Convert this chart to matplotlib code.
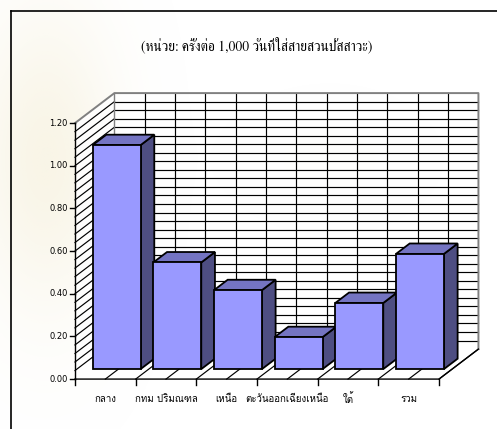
import matplotlib
matplotlib.use("Agg")
import matplotlib.pyplot as plt
from matplotlib.patches import Polygon
import numpy as np

# Infection rate per 1,000 catheter-days by region
categories = ["กลาง", "กทม ปริมณฑล", "เหนือ", "ตะวันออกเฉียงเหนือ", "ใต้", "รวม"]
values = [1.05, 0.50, 0.37, 0.15, 0.31, 0.54]
y_ticks = [0.00, 0.20, 0.40, 0.60, 0.80, 1.00, 1.20]
title = "(หน่วย: ครั้งต่อ 1,000 วันที่ใส่สายสวนปัสสาวะ)"

Y_MAX = 1.20
MINOR = 0.04
N = len(categories)

# Oblique projection: full depth shifts right (in category units) and up (in value units)
DX, DY = 0.65, 0.1406
Z_FRONT, Z_BACK = 0.333, 0.68
HALF_W = 0.395
SHIFT = -0.03

FRONT = "#9999ff"
TOP = "#7474c2"
SIDE = "#4e4e82"
WALL_EDGE = "#808080"

fig = plt.figure(figsize=(4.97, 4.29), dpi=100)

# faint paper watermark on the left side of the page
bg = fig.add_axes([0, 0, 1, 1], zorder=-1)
bg.axis("off")
gx, gy = np.meshgrid(np.linspace(0, 497, 250), np.linspace(429, 0, 216))
blob = (np.exp(-(((gx - 45) / 70) ** 2) - (((gy - 270) / 150) ** 2)) * 0.32
        + np.exp(-(((gx - 330) / 60) ** 2) - (((gy - 270) / 40) ** 2)) * 0.15)
rgba = np.zeros(gx.shape + (4,))
rgba[..., :3] = np.array([236, 224, 180]) / 255
rgba[..., 3] = np.clip(blob, 0, 1)
bg.imshow(rgba, extent=[0, 497, 0, 429], aspect="auto", interpolation="bilinear")
bg.set_xlim(0, 497)
bg.set_ylim(0, 429)

ax = fig.add_axes([0, 0, 1, 1])
ax.patch.set_alpha(0)
ax.set_xlim(-1.236, 6.956)
ax.set_ylim(-0.234, 1.777)
ax.axis("off")

def poly(pts, fc, ec="black", lw=1.0, z=1, alpha=1.0):
    ax.add_patch(Polygon(pts, closed=True, facecolor=fc, edgecolor=ec,
                         linewidth=lw, zorder=z, joinstyle="miter", alpha=alpha))

# chart frame (extends past the right and bottom edges)
ax.plot([-1.055, 6.956], [1.727, 1.727], color="black", lw=1.2, zorder=0.5)
ax.plot([-1.055, -1.055], [1.727, -0.234], color="black", lw=1.2, zorder=0.5)

# back wall, side wall and floor
poly([(DX, DY), (N + DX, DY), (N + DX, Y_MAX + DY), (DX, Y_MAX + DY)], "white", "none", 0, 1, 0.85)
poly([(0, 0), (DX, DY), (DX, Y_MAX + DY), (0, Y_MAX)], "white", "none", 0, 1, 0.85)
poly([(0, 0), (N, 0), (N + DX, DY), (DX, DY)], "white", "none", 0, 1, 0.85)

levels = np.arange(0, Y_MAX + 1e-9, MINOR)
for v in levels[1:-1]:
    ax.plot([DX, N + DX], [v + DY, v + DY], color="black", lw=0.85, zorder=2)
    ax.plot([0, DX], [v, v + DY], color="black", lw=0.85, zorder=2)
halves = np.arange(0, N + 1e-9, 0.5)
for x in halves[1:-1]:
    ax.plot([x + DX, x + DX], [DY, Y_MAX + DY], color="black", lw=0.85, zorder=2)
for x in halves[1:]:
    ax.plot([x, x + DX], [0, DY], color="black", lw=0.85, zorder=2)

# wall outlines
ax.plot([0, DX, N + DX, N + DX], [Y_MAX, Y_MAX + DY, Y_MAX + DY, DY],
        color=WALL_EDGE, lw=1.4, zorder=2.5)
ax.plot([DX, DX], [DY, Y_MAX + DY], color=WALL_EDGE, lw=1.0, zorder=2.5)
ax.plot([0, N, N + DX], [0, 0, DY], color="black", lw=1.0, zorder=2.5)
ax.plot([0, 0], [0, Y_MAX], color="black", lw=1.0, zorder=2.5)

# value axis ticks and labels
for t in y_ticks:
    ax.plot([-0.085, 0], [t, t], color="black", lw=1.0, zorder=2.5)
    ax.text(-0.12, t, f"{t:.2f}", ha="right", va="center", fontsize=6,
            family=["DejaVu Sans"], zorder=3)

# category ticks and labels
for i in range(N + 1):
    ax.plot([i, i], [0, -0.03], color="black", lw=1.0, zorder=2.5)
for i, lab in enumerate(categories):
    ax.text(i + 0.5, -0.094, lab, ha="center", va="center", fontsize=7,
            family=["Loma", "DejaVu Sans"], zorder=3)

# 3D bars, drawn left to right so each one covers its neighbour's side face
for i, v in enumerate(values):
    c = i + 0.5 + SHIFT
    x0f = c - HALF_W + Z_FRONT * DX
    x1f = c + HALF_W + Z_FRONT * DX
    y0f = Z_FRONT * DY
    y1f = v + Z_FRONT * DY
    ddx = (Z_BACK - Z_FRONT) * DX
    ddy = (Z_BACK - Z_FRONT) * DY
    z = 4 + i
    poly([(x1f, y0f), (x1f + ddx, y0f + ddy), (x1f + ddx, y1f + ddy), (x1f, y1f)],
         SIDE, "black", 1.3, z)
    poly([(x0f, y1f), (x1f, y1f), (x1f + ddx, y1f + ddy), (x0f + ddx, y1f + ddy)],
         TOP, "black", 1.3, z)
    poly([(x0f, y0f), (x1f, y0f), (x1f, y1f), (x0f, y1f)],
         FRONT, "black", 1.3, z)

ax.text(2.99, 1.566, title, ha="center", va="center", fontsize=9.8,
        family=["Norasi", "FreeSerif", "DejaVu Serif"], zorder=3)

fig.savefig("out.png", dpi=100)
